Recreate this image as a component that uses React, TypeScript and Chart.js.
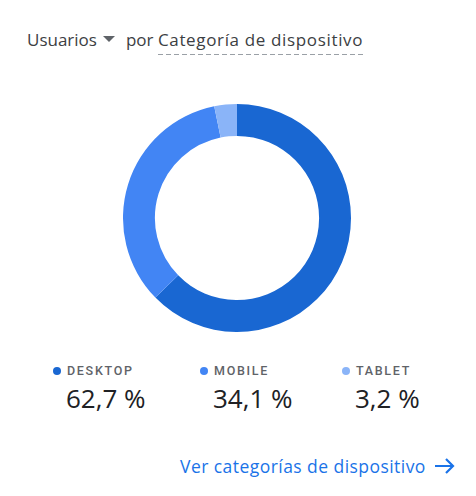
import React, { useEffect, useRef } from "react";
import { Chart, registerables } from "chart.js";

Chart.register(...registerables);

const categories = ["DESKTOP", "MOBILE", "TABLET"];
const values = [62.7, 34.1, 3.2];
const valueLabels = ["62,7 %", "34,1 %", "3,2 %"];
const colors = ["#1967d2", "#4285f4", "#8ab4f8"];
const legendX = [57, 204, 346];

export default function App() {
  const ref = useRef<HTMLCanvasElement | null>(null);

  useEffect(() => {
    if (!ref.current) return;
    const chart = new Chart(ref.current, {
      type: "doughnut",
      data: {
        labels: categories,
        datasets: [
          {
            data: values,
            backgroundColor: colors,
            borderWidth: 0,
          },
        ],
      },
      options: {
        animation: false,
        responsive: false,
        maintainAspectRatio: false,
        cutout: "72%",
        plugins: { legend: { display: false }, tooltip: { enabled: false } },
        layout: { padding: 0 },
      },
    });
    return () => chart.destroy();
  }, []);

  const font = "Roboto, sans-serif";
  const wide = "'Open Sans', Roboto, sans-serif";

  return (
    <div
      style={{
        position: "fixed",
        left: 0,
        top: 0,
        width: 476,
        height: 496,
        background: "#fff",
        fontFamily: font,
        overflow: "hidden",
      }}
    >
      <div
        style={{
          position: "absolute",
          left: 27,
          top: 28,
          fontSize: 17,
          fontFamily: wide,
          color: "#3c4043",
          whiteSpace: "nowrap",
          lineHeight: "24px",
        }}
      >
        <span>Usuarios</span>
        <svg width="12" height="7" viewBox="0 0 12 7" style={{ margin: "0 11px 0 6px", position: "relative", top: -3 }}>
          <path d="M0 0 L12 0 L6 6 Z" fill="#5f6368" />
        </svg>
        <span>por </span>
        <span
          style={{
            letterSpacing: 0.65,
            paddingBottom: 4,
            backgroundImage: "repeating-linear-gradient(to right, #9aa0a6 0 5px, transparent 5px 8px)",
            backgroundSize: "100% 1.5px",
            backgroundRepeat: "no-repeat",
            backgroundPosition: "0 100%",
          }}
        >
          Categoría de dispositivo
        </span>
      </div>

      <div style={{ position: "absolute", left: 123, top: 104, width: 228, height: 228 }}>
        <canvas ref={ref} width={228} height={228} style={{ width: 228, height: 228 }} />
      </div>

      {categories.map((c, i) => (
        <div key={c}>
          <div
            style={{
              position: "absolute",
              left: legendX[i] - 4,
              top: 367,
              width: 8,
              height: 8,
              borderRadius: 4,
              background: colors[i],
            }}
          />
          <div
            style={{
              position: "absolute",
              left: legendX[i] + 10,
              top: 363,
              fontSize: 12.5,
              fontWeight: 500,
              letterSpacing: 1.7,
              color: "#5f6368",
              lineHeight: "16px",
            }}
          >
            {c}
          </div>
          <div
            style={{
              position: "absolute",
              left: legendX[i] + 9,
              top: 381,
              fontSize: 26,
              fontFamily: wide,
              color: "#202124",
              lineHeight: "34px",
              whiteSpace: "nowrap",
            }}
          >
            {valueLabels[i]}
          </div>
        </div>
      ))}

      <div
        style={{
          position: "absolute",
          left: 180,
          top: 454,
          fontSize: 17.5,
          letterSpacing: 0.45,
          fontFamily: wide,
          color: "#1a73e8",
          lineHeight: "24px",
          whiteSpace: "nowrap",
        }}
      >
        Ver categorías de dispositivo
      </div>
      <svg style={{ position: "absolute", left: 434, top: 457 }} width="22" height="18" viewBox="0 0 22 18">
        <path d="M1 9 H19 M12 2 L19 9 L12 16" stroke="#1a73e8" strokeWidth="2.2" fill="none" />
      </svg>
    </div>
  );
}
